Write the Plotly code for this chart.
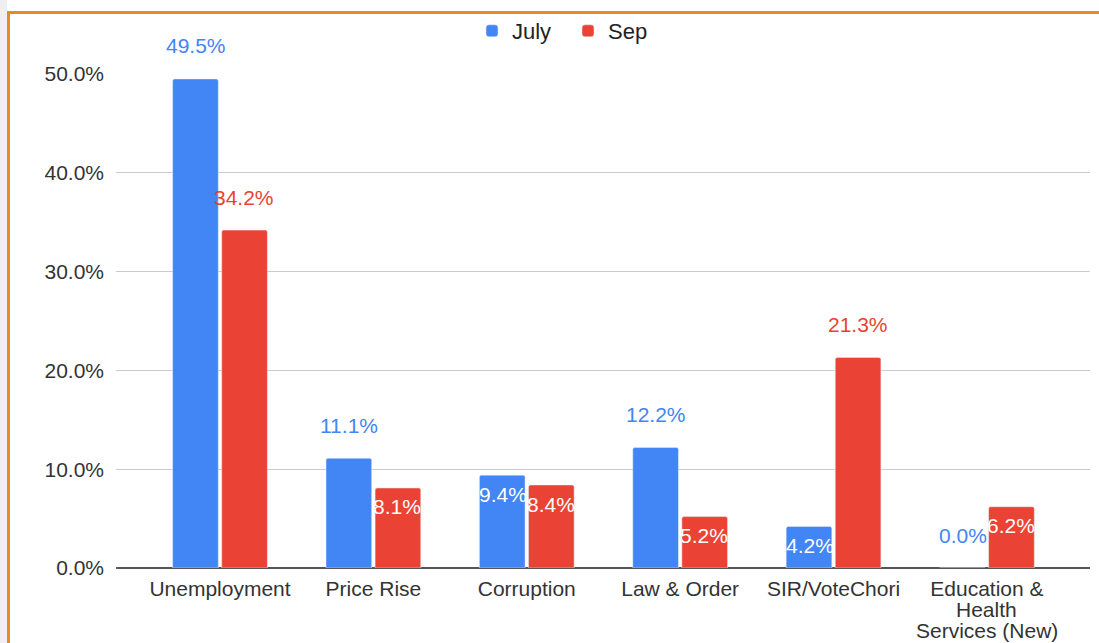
import plotly.graph_objects as go

categories = ["Unemployment", "Price Rise", "Corruption", "Law & Order",
              "SIR/VoteChori", "Education &<br>Health<br>Services (New)"]
july = [49.5, 11.1, 9.4, 12.2, 4.2, 0.0]
sep = [34.2, 8.1, 8.4, 5.2, 21.3, 6.2]
series_names = ["July", "Sep"]
tick_vals = [0, 10, 20, 30, 40, 50]
tick_text = ["0.0%", "10.0%", "20.0%", "30.0%", "40.0%", "50.0%"]

BLUE = "#4285F4"
RED = "#EA4335"
FONT = "Liberation Sans, Arial, sans-serif"
FS = 21
TEXT = "#333333"

W, H = 1099, 643
L, R, T, B = 116, 9, 74, 75
PW, PH = W - L - R, H - T - B


def px(x):
    return (x - L) / PW


def py(y):
    return (H - B - y) / PH


fig = go.Figure()
fig.add_trace(go.Bar(x=categories, y=july, name=series_names[0], marker_color=BLUE))
fig.add_trace(go.Bar(x=categories, y=sep, name=series_names[1], marker_color=RED))

annotations = []
for vals, color, shift in [(july, BLUE, -24), (sep, RED, 24)]:
    for c, v in zip(categories, vals):
        outside = v >= 10 or v == 0
        annotations.append(dict(
            x=c, y=v, xref="x", yref="y", text=f"{v:.1f}%", showarrow=False,
            xshift=shift, yshift=33 if outside else -19,
            font=dict(family=FONT, size=FS, color=color if outside else "white"),
        ))

# category labels: first line as tick text, further lines as tighter-spaced annotations
x_ticktext = []
for c in categories:
    lines = c.split("<br>")
    x_ticktext.append(lines[0])
    for k, extra in enumerate(lines[1:], start=1):
        annotations.append(dict(
            x=c, y=0, xref="x", yref="y", text=extra, showarrow=False,
            yanchor="middle", yshift=-(21 + 20.5 * k),
            font=dict(family=FONT, size=FS, color=TEXT),
        ))

fig.update_layout(
    width=W, height=H,
    margin=dict(l=L, r=R, t=T, b=B, autoexpand=False),
    paper_bgcolor="white", plot_bgcolor="white",
    barmode="group", bargap=0.36, bargroupgap=0.07, barcornerradius=2,
    font=dict(family=FONT, size=FS, color=TEXT),
    legend=dict(orientation="h", x=568 / W, xref="container", xanchor="center",
                y=1 - 31 / H, yref="container", yanchor="middle", entrywidth=51,
                bgcolor="rgba(0,0,0,0)", font=dict(size=22, color="#222222"),
                traceorder="normal"),
    annotations=annotations,
    shapes=[
        dict(type="rect", xref="paper", yref="paper", x0=px(-5), x1=px(7), y0=py(H + 5), y1=py(-5),
             layer="above", fillcolor="#EFEFF2", line_width=0),
        dict(type="line", xref="paper", yref="paper", x0=px(7), x1=px(W + 5), y0=py(12.5), y1=py(12.5),
             line=dict(color="#E8892B", width=3)),
        dict(type="line", xref="paper", yref="paper", x0=px(8.5), x1=px(8.5), y0=py(H + 5), y1=py(11),
             line=dict(color="#E8892B", width=3)),
    ],
)
fig.update_xaxes(range=[-0.678, 5.672], showgrid=False, ticks="", automargin=False,
                 tickvals=categories, ticktext=x_ticktext,
                 ticklabelstandoff=6, tickfont=dict(size=FS, color=TEXT), showline=False)
fig.update_yaxes(range=[0, 50], tickvals=tick_vals, ticktext=tick_text, showgrid=True,
                 automargin=False, gridcolor="#CCCCCC", gridwidth=1, zeroline=True,
                 zerolinecolor="#555555", zerolinewidth=2, ticks="", ticklabelstandoff=11,
                 tickfont=dict(size=FS, color=TEXT))

fig.write_html("out.html", config={"displayModeBar": False},
               post_script="document.body.style.margin='0';document.body.style.overflow='hidden';")
